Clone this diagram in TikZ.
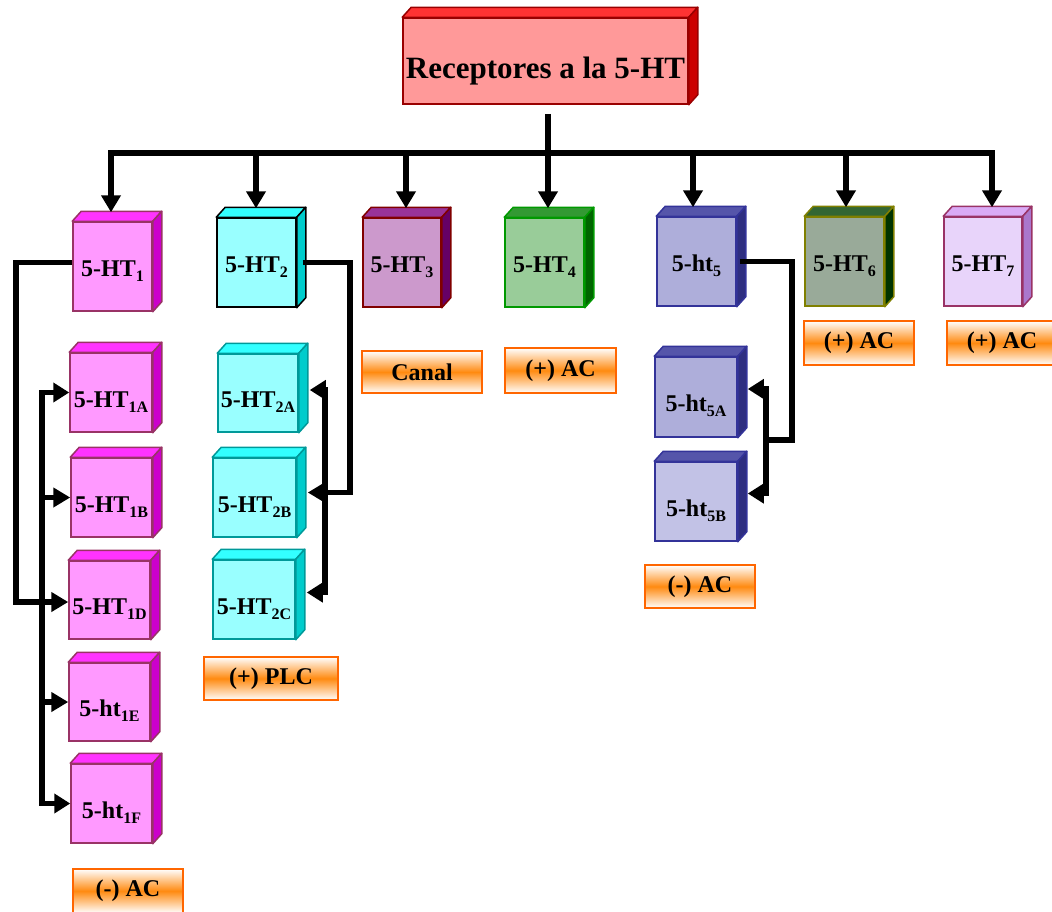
\documentclass[tikz,border=0pt]{standalone}
\usepackage{fontspec}
\setmainfont{Liberation Serif}
\usetikzlibrary{arrows.meta,calc}

\definecolor{tpf}{HTML}{FF9999}\definecolor{tpt}{HTML}{FF3333}\definecolor{tps}{HTML}{CC0000}\definecolor{tpb}{HTML}{990000}
\definecolor{aaf}{HTML}{FF99FF}\definecolor{aat}{HTML}{FF33FF}\definecolor{aas}{HTML}{CC00CC}\definecolor{aab}{HTML}{993366}
\definecolor{bbf}{HTML}{99FFFF}\definecolor{bbt}{HTML}{33FFFF}\definecolor{bbs}{HTML}{00CCCC}\definecolor{bbb}{HTML}{009999}
\definecolor{ccf}{HTML}{CC99CC}\definecolor{cct}{HTML}{993399}\definecolor{ccs}{HTML}{660066}\definecolor{ccb}{HTML}{800000}
\definecolor{ddf}{HTML}{99CC99}\definecolor{ddt}{HTML}{339933}\definecolor{dds}{HTML}{006600}\definecolor{ddb}{HTML}{009900}
\definecolor{eef}{HTML}{AEAEDA}\definecolor{eet}{HTML}{5555AA}\definecolor{ees}{HTML}{2E2E80}\definecolor{eeb}{HTML}{333399}
\definecolor{egf}{HTML}{C2C2E6}
\definecolor{fff}{HTML}{99AA99}\definecolor{fft}{HTML}{336633}\definecolor{ffs}{HTML}{003300}\definecolor{ffb}{HTML}{808000}
\definecolor{ggf}{HTML}{E8D4FA}\definecolor{ggt}{HTML}{D9AAF5}\definecolor{ggs}{HTML}{AA77CC}\definecolor{ggb}{HTML}{993366}
\definecolor{labc}{HTML}{FF6600}\definecolor{labo}{HTML}{FF8A10}

\newcommand\sbs[1]{\raisebox{-0.22em}{\fontsize{16}{16}\selectfont #1}}

\tikzset{
  conn/.style={line width=5.5pt},
  arr/.style={-{Triangle[length=17pt,width=19pt]}},
  darr/.style={{Triangle[length=16pt,width=19pt]}-{Triangle[length=16pt,width=19pt]}},
  front/.style={draw, line width=1.5pt, inner sep=0pt, text depth=0pt, text height=19pt,
    font=\fontsize{24}{24}\selectfont\bfseries},
  subb/.style={text height=29pt},
  face/.style={line width=1.5pt, line join=round},
  lab/.style={draw=labc, line width=2.5pt, top color=white, bottom color=white, middle color=labo,
    inner sep=0pt, font=\fontsize{24}{24}\selectfont\bfseries},
}

% #1 extra style, #2 name, #3 x1, #4 y1, #5 x2, #6 y2, #7 scheme, #8 border, #9 text
\newcommand\cube[9][]{%
  \node[front, fill=#7f, draw=#8, minimum width={(#5-#3)*1pt}, minimum height={(#6-#4)*1pt}, #1]
    (#2) at ({(#3+#5)/2},{(#4+#6)/2}) {#9};
  \filldraw[face, fill=#7t, draw=#8] (#2.north west) -- ++(9,-10) -- ([shift={(9,-10)}]#2.north east) -- (#2.north east) -- cycle;
  \filldraw[face, fill=#7s, draw=#8] (#2.north east) -- ++(9,-10) -- ([shift={(9,-10)}]#2.south east) -- (#2.south east) -- cycle;
}
% #1 name, #2 x1, #3 y1, #4 x2, #5 y2, #6 text
\newcommand\labbox[6]{%
  \node[lab, minimum width={(#4-#2)*1pt}, minimum height={(#5-#3)*1pt}] (#1) at ({(#2+#4)/2},{(#3+#5)/2}) {#6};
}

\begin{document}
\begin{tikzpicture}[x=1pt,y=-1pt]
\useasboundingbox (0,0) rectangle (1052,911);

% boxes
\cube[font=\fontsize{31}{31}\selectfont\bfseries, text height=34pt]{top}{403}{18}{688}{104}{tp}{tpb}{Receptores a la 5-HT}
\cube{ht1}{73}{222}{152}{311}{aa}{aab}{5-HT\sbs{1}}
\cube[subb]{ht1a}{70}{353}{152}{432}{aa}{aab}{5-HT\sbs{1A}}
\cube[subb]{ht1b}{71}{458}{152}{537}{aa}{aab}{5-HT\sbs{1B}}
\cube[subb]{ht1d}{69}{561}{150}{639}{aa}{aab}{5-HT\sbs{1D}}
\cube[subb]{ht1e}{69}{663}{150}{741}{aa}{aab}{5-ht\sbs{1E}}
\cube[subb]{ht1f}{71}{764}{152}{843}{aa}{aab}{5-ht\sbs{1F}}
\cube{ht2}{217}{218}{296}{307}{bb}{black}{5-HT\sbs{2}}
\cube[subb]{ht2a}{218}{354}{298}{432}{bb}{bbb}{5-HT\sbs{2A}}
\cube[subb]{ht2b}{213}{458}{296}{537}{bb}{bbb}{5-HT\sbs{2B}}
\cube[subb]{ht2c}{213}{560}{295}{639}{bb}{bbb}{5-HT\sbs{2C}}
\cube{ht3}{363}{218}{441}{307}{cc}{ccb}{5-HT\sbs{3}}
\cube{ht4}{505}{218}{584}{307}{dd}{ddb}{5-HT\sbs{4}}
\cube{ht5}{657}{217}{736}{306}{ee}{eeb}{5-ht\sbs{5}}
\cube[subb]{ht5a}{655}{357}{737}{437}{ee}{eeb}{5-ht\sbs{5A}}
\cube[subb, fill=egf]{ht5b}{655}{462}{737}{541}{ee}{eeb}{5-ht\sbs{5B}}
\cube{ht6}{805}{217}{884}{306}{ff}{ffb}{5-HT\sbs{6}}
\cube{ht7}{944}{217}{1022}{306}{gg}{ggb}{5-HT\sbs{7}}

% labels
\labbox{l1}{73}{869}{183}{913}{(-) AC}
\labbox{l2}{204}{657}{338}{700}{(+) PLC}
\labbox{l3}{362}{351}{482}{393}{Canal}
\labbox{l4}{505}{348}{616}{393}{(+) AC}
\labbox{l5}{645}{565}{755}{608}{(-) AC}
\labbox{l6}{804}{321}{914}{365}{(+) AC}
\labbox{l7}{947}{321}{1057}{365}{(+) AC}

% top tree
\coordinate (j) at (548,153);
\coordinate (d1) at (111,153);
\coordinate (d2) at (256,153);
\coordinate (d3) at (406,153);
\coordinate (d5) at (693,153);
\coordinate (d6) at (846,153);
\coordinate (d7) at (992,153);
\draw[conn, arr] ($(top.south -| j)+(0,9)$) -- ($(j |- ht4.north)+(0,-9)$);
\draw[conn, arr] (j) -- (d1) -- ($(d1 |- ht1.north)+(0,-9)$);
\draw[conn, arr] (j) -- (d7) -- ($(d7 |- ht7.north)+(0,-9)$);
\draw[conn, arr] (d2) -- ($(d2 |- ht2.north)+(0,-9)$);
\draw[conn, arr] (d3) -- ($(d3 |- ht3.north)+(0,-9)$);
\draw[conn, arr] (d5) -- ($(d5 |- ht5.north)+(0,-9)$);
\draw[conn, arr] (d6) -- ($(d6 |- ht6.north)+(0,-9)$);

% 5-HT1 family
\coordinate (L1) at (16,0);
\coordinate (L2) at (42,0);
\draw[conn, arr] ($(ht1.west)+(0,-4)$) -- ($(ht1.west -| L1)+(0,-4)$) |- ($(ht1d.west)+(0,2)$);
\draw[conn, darr] (ht1a.west) -- (ht1a.west -| L2) -- (ht1f.west -| L2) -- (ht1f.west);
\draw[conn, arr] (ht1b.west -| L2) -- (ht1b.west);
\draw[conn, arr] (ht1e.west -| L2) -- (ht1e.west);

% 5-HT2 family
\coordinate (R2) at (350,0);
\coordinate (R2i) at (325,0);
\draw[conn, arr] ([xshift=6pt]ht2.east) -- (ht2.east -| R2) |- ($(ht2b.east)+(11,-5)$);
\draw[conn, darr] ($(ht2a.east)+(11,-3)$) -- ($(ht2a.east -| R2i)+(0,-3)$) -- ($(ht2c.east -| R2i)+(0,-7)$) -- ($(ht2c.east)+(11,-7)$);

% 5-ht5 family
\coordinate (R5) at (792,0);
\coordinate (j5) at (766,440);
\draw[conn] ([xshift=3pt]ht5.east) -| (R5 |- j5) -- (j5);
\draw[conn, darr] ($(ht5a.east)+(10,-8)$) -- ($(ht5a.east -| j5)+(0,-8)$) -- ($(ht5b.east -| j5)+(0,-8)$) -- ($(ht5b.east)+(10,-8)$);
\end{tikzpicture}
\end{document}
